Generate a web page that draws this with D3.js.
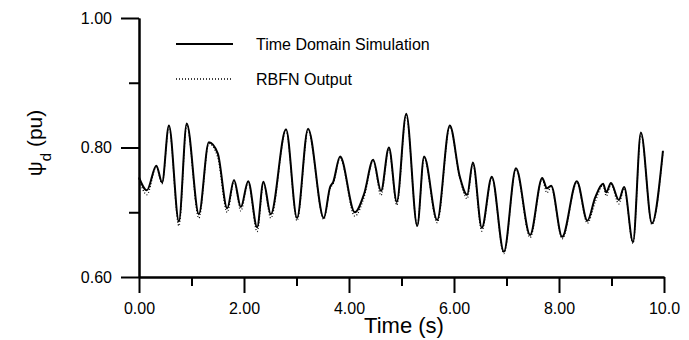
<!DOCTYPE html>
<html>
<head>
<meta charset="utf-8">
<script src="https://cdn.jsdelivr.net/npm/d3@7"></script>
<style>
  body { margin: 0; background: #fff; }
  svg { display: block; font-family: "Liberation Sans", Arial, sans-serif; }
</style>
</head>
<body>
<div id="chart"></div>
<script>
// values (time in s, psi_d in pu)
const time = [0, 0.15, 0.33, 0.44, 0.57, 0.76, 0.91, 1.14, 1.33, 1.50,
  1.68, 1.81, 1.94, 2.08, 2.25, 2.37, 2.51, 2.80, 3.01, 3.22,
  3.52, 3.64, 3.70, 3.83, 4.11, 4.29, 4.46, 4.61, 4.76, 4.91,
  5.09, 5.30, 5.43, 5.68, 5.92, 6.11, 6.25, 6.36, 6.53, 6.72,
  6.95, 7.18, 7.45, 7.68, 7.77, 7.85, 8.06, 8.34, 8.54, 8.69,
  8.84, 8.90, 8.99, 9.14, 9.24, 9.41, 9.56, 9.77, 9.98];
const simulation = [0.754, 0.734, 0.772, 0.746, 0.834, 0.686, 0.837, 0.697, 0.808, 0.791,
  0.706, 0.750, 0.708, 0.748, 0.677, 0.747, 0.697, 0.828, 0.691, 0.829,
  0.691, 0.739, 0.747, 0.786, 0.700, 0.729, 0.781, 0.733, 0.800, 0.716,
  0.852, 0.679, 0.786, 0.688, 0.834, 0.755, 0.727, 0.777, 0.676, 0.755,
  0.639, 0.768, 0.665, 0.753, 0.737, 0.741, 0.662, 0.748, 0.687, 0.723,
  0.744, 0.731, 0.745, 0.719, 0.739, 0.654, 0.823, 0.683, 0.795];
const rbfn = [0.752, 0.727, 0.770, 0.744, 0.832, 0.679, 0.835, 0.691, 0.806, 0.785,
  0.700, 0.748, 0.702, 0.746, 0.670, 0.745, 0.691, 0.826, 0.687, 0.827,
  0.689, 0.737, 0.744, 0.784, 0.694, 0.724, 0.779, 0.726, 0.798, 0.711,
  0.850, 0.679, 0.784, 0.684, 0.832, 0.753, 0.721, 0.775, 0.671, 0.753,
  0.636, 0.766, 0.661, 0.751, 0.730, 0.739, 0.659, 0.746, 0.683, 0.716,
  0.742, 0.725, 0.743, 0.713, 0.737, 0.652, 0.821, 0.681, 0.793];

const xMajor = [0, 2, 4, 6, 8, 10];
const xMinor = [1, 3, 5, 7, 9];
const yMajor = [0.6, 0.8, 1.0];
const yMinor = [0.7, 0.9];
const legendLabels = ["Time Domain Simulation", "RBFN Output"];

const width = 689, height = 340;
const margin = {top: 18, right: 25, bottom: 63, left: 139};

const x = d3.scaleLinear().domain([0, 10]).range([margin.left, width - margin.right]);
const y = d3.scaleLinear().domain([0.6, 1.0]).range([height - margin.bottom, margin.top]);

const svg = d3.select("#chart").append("svg")
    .attr("width", width)
    .attr("height", height);

// axes
const xAxisG = svg.append("g").attr("transform", `translate(0,${y(0.6)})`);
xAxisG.call(d3.axisBottom(x).tickValues(xMajor).tickSize(16).tickSizeOuter(0).tickPadding(10)
    .tickFormat(d => d === 10 ? "10.0" : d.toFixed(2)));
const xMinorG = svg.append("g").attr("transform", `translate(0,${y(0.6)})`);
xMinorG.call(d3.axisBottom(x).tickValues(xMinor).tickSize(9).tickSizeOuter(0).tickFormat(""));

const yAxisG = svg.append("g").attr("transform", `translate(${x(0)},0)`);
yAxisG.call(d3.axisLeft(y).tickValues(yMajor).tickSize(18).tickSizeOuter(0).tickPadding(9)
    .tickFormat(d3.format(".2f")));
const yMinorG = svg.append("g").attr("transform", `translate(${x(0)},0)`);
yMinorG.call(d3.axisLeft(y).tickValues(yMinor).tickSize(10).tickSizeOuter(0).tickFormat(""));

svg.selectAll(".domain").attr("stroke", "#000").attr("stroke-width", 2);
svg.selectAll(".tick line").attr("stroke", "#000").attr("stroke-width", 2);
svg.selectAll(".tick text").attr("font-size", 16).attr("fill", "#000")
    .attr("font-family", "'Liberation Sans', Arial, sans-serif");

// axis titles
svg.append("text")
    .attr("x", 404)
    .attr("y", 333)
    .attr("text-anchor", "middle")
    .attr("font-size", 22)
    .text("Time (s)");

const yTitle = svg.append("text")
    .attr("transform", "translate(42,143) rotate(-90)")
    .attr("text-anchor", "middle")
    .attr("font-size", 21);
yTitle.append("tspan").text("ψ");
yTitle.append("tspan").attr("font-size", 15).attr("baseline-shift", "sub").text("d");
yTitle.append("tspan").text(" (pu)");

// series
const line = d3.line()
    .x((d, i) => x(time[i]))
    .y(d => y(d))
    .curve(d3.curveMonotoneX);

svg.append("path")
    .datum(rbfn)
    .attr("fill", "none")
    .attr("stroke", "#000")
    .attr("stroke-width", 1.3)
    .attr("stroke-dasharray", "1,2")
    .attr("d", line);

svg.append("path")
    .datum(simulation)
    .attr("fill", "none")
    .attr("stroke", "#000")
    .attr("stroke-width", 2)
    .attr("d", line);

// legend
const legend = svg.append("g");
legendLabels.forEach((label, i) => {
    const ly = 44 + i * 35;
    legend.append("line")
        .attr("x1", 176).attr("x2", 233)
        .attr("y1", ly).attr("y2", ly)
        .attr("stroke", "#000")
        .attr("stroke-width", i === 0 ? 2 : 1.3)
        .attr("stroke-dasharray", i === 0 ? null : "1,2");
    legend.append("text")
        .attr("x", 256)
        .attr("y", ly)
        .attr("dy", "0.35em")
        .attr("font-size", 16)
        .text(label);
});
</script>
</body>
</html>
